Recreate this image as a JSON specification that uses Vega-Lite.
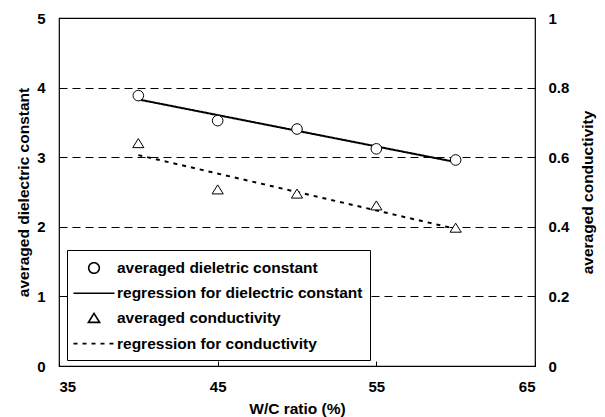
{
  "$schema": "https://vega.github.io/schema/vega-lite/v6.json",
  "width": 476,
  "height": 348,
  "autosize": {"type": "none"},
  "padding": {"left": 59, "top": 18, "right": 70, "bottom": 51},
  "background": "white",
  "config": {
    "font": "Liberation Sans",
    "view": {"stroke": "black", "strokeWidth": 1.2},
    "axis": {
      "labelFont": "Liberation Sans", "labelFontWeight": "bold", "labelFontSize": 15, "labelColor": "black",
      "titleFont": "Liberation Sans", "titleFontWeight": "bold", "titleFontSize": 15.5, "titleColor": "black",
      "domainColor": "black", "tickColor": "black"
    },
    "legend": {
      "orient": "none", "legendX": 8, "legendY": 232, "padding": 7,
      "strokeColor": "black", "fillColor": "white", "cornerRadius": 0,
      "symbolSize": 400, "symbolOffset": 9, "labelOffset": 12, "rowPadding": 5.2,
      "labelFont": "Liberation Sans", "labelFontSize": 15.5, "labelFontWeight": "bold", "labelColor": "black", "labelLimit": 400,
      "symbolStrokeColor": "black", "symbolFillColor": "white", "symbolStrokeWidth": 1.5
    }
  },
  "datasets": {
    "pts": [
      {"wc": 40, "value": 3.885, "series": "averaged dieletric constant"},
      {"wc": 45, "value": 3.525, "series": "averaged dieletric constant"},
      {"wc": 50, "value": 3.405, "series": "averaged dieletric constant"},
      {"wc": 55, "value": 3.12, "series": "averaged dieletric constant"},
      {"wc": 60, "value": 2.96, "series": "averaged dieletric constant"},
      {"wc": 40, "value": 3.83, "series": "regression for dielectric constant"},
      {"wc": 60, "value": 2.93, "series": "regression for dielectric constant"},
      {"wc": 40, "value": 0.639, "series": "averaged conductivity"},
      {"wc": 45, "value": 0.506, "series": "averaged conductivity"},
      {"wc": 50, "value": 0.494, "series": "averaged conductivity"},
      {"wc": 55, "value": 0.46, "series": "averaged conductivity"},
      {"wc": 60, "value": 0.396, "series": "averaged conductivity"},
      {"wc": 40, "value": 0.606, "series": "regression for conductivity"},
      {"wc": 60, "value": 0.394, "series": "regression for conductivity"}
    ]
  },
  "encoding": {
    "x": {
      "field": "wc", "type": "quantitative",
      "scale": {"domain": [35, 65], "nice": false},
      "axis": {"values": [35, 45, 55, 65], "title": "W/C ratio (%)", "grid": false, "tickSize": -5, "labelPadding": 18, "titlePadding": 7, "domain": false}
    }
  },
  "layer": [
    {
      "encoding": {
        "y": {
          "field": "value", "type": "quantitative",
          "scale": {"domain": [0, 5], "nice": false},
          "axis": {"orient": "left", "values": [0, 1, 2, 3, 4, 5], "title": "averaged dielectric constant", "grid": true, "gridDash": [8, 5], "gridColor": "black", "gridWidth": 1, "gridOpacity": 1, "ticks": false, "labelPadding": 14, "titlePadding": 5, "domain": false}
        }
      },
      "layer": [
        {
          "data": {"name": "pts"},
          "transform": [{"filter": "datum.series === 'regression for dielectric constant'"}],
          "mark": {"type": "line", "stroke": "black", "strokeWidth": 2},
          "encoding": {
            "strokeDash": {
              "field": "series", "type": "nominal",
              "scale": {"domain": ["averaged dieletric constant", "regression for dielectric constant", "averaged conductivity", "regression for conductivity"], "range": [[1, 0], [1, 0], [1, 0], [4, 5]]},
              "legend": {"title": null, "encode": {"symbols": {"update": {"stroke": {"value": "black"}, "fill": {"value": "white"}, "opacity": {"value": 1}, "strokeWidth": {"value": 1.6}}}}}
            }
          }
        },
        {
          "data": {"name": "pts"},
          "transform": [{"filter": "datum.series === 'averaged dieletric constant'"}],
          "mark": {"type": "point", "filled": true, "fill": "white", "stroke": "black", "strokeWidth": 1, "size": 400, "opacity": 1},
          "encoding": {
            "shape": {
              "field": "series", "type": "nominal",
              "scale": {"domain": ["averaged dieletric constant", "regression for dielectric constant", "averaged conductivity", "regression for conductivity"], "range": ["M -0.53,0 A 0.53,0.53 0 1,0 0.53,0 A 0.53,0.53 0 1,0 -0.53,0 Z", "M -2.05,0 L 2.05,0", "M 0,-0.5 L 0.56,0.4 L -0.56,0.4 Z", "M -2.05,0 L 2.05,0"]},
              "legend": {"title": null, "encode": {"symbols": {"update": {"stroke": {"value": "black"}, "fill": {"value": "white"}, "opacity": {"value": 1}, "strokeWidth": {"value": 1.6}}}}}
            }
          }
        }
      ]
    },
    {
      "encoding": {
        "y": {
          "field": "value", "type": "quantitative",
          "scale": {"domain": [0, 1], "nice": false},
          "axis": {"orient": "right", "values": [0, 0.2, 0.4, 0.6, 0.8, 1], "format": "~g", "title": "averaged conductivity", "titleAngle": 270, "grid": false, "ticks": false, "labelPadding": 13, "titlePadding": 27, "domain": false}
        }
      },
      "layer": [
        {
          "data": {"name": "pts"},
          "transform": [{"filter": "datum.series === 'regression for conductivity'"}],
          "mark": {"type": "line", "stroke": "black", "strokeWidth": 2},
          "encoding": {
            "strokeDash": {
              "field": "series", "type": "nominal",
              "scale": {"domain": ["averaged dieletric constant", "regression for dielectric constant", "averaged conductivity", "regression for conductivity"], "range": [[1, 0], [1, 0], [1, 0], [4, 5]]},
              "legend": {"title": null}
            }
          }
        },
        {
          "data": {"name": "pts"},
          "transform": [{"filter": "datum.series === 'averaged conductivity'"}],
          "mark": {"type": "point", "filled": true, "fill": "white", "stroke": "black", "strokeWidth": 1, "size": 400, "opacity": 1},
          "encoding": {
            "shape": {
              "field": "series", "type": "nominal",
              "scale": {"domain": ["averaged dieletric constant", "regression for dielectric constant", "averaged conductivity", "regression for conductivity"], "range": ["M -0.53,0 A 0.53,0.53 0 1,0 0.53,0 A 0.53,0.53 0 1,0 -0.53,0 Z", "M -2.05,0 L 2.05,0", "M 0,-0.5 L 0.56,0.4 L -0.56,0.4 Z", "M -2.05,0 L 2.05,0"]},
              "legend": {"title": null}
            }
          }
        }
      ]
    }
  ],
  "resolve": {"scale": {"y": "independent"}}
}
